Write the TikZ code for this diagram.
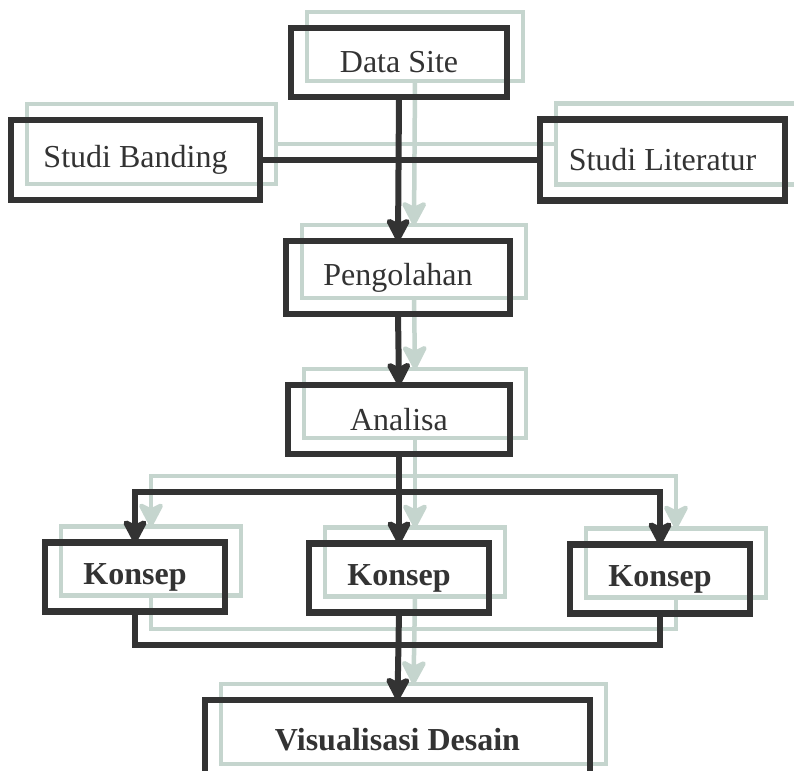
\documentclass[tikz,border=0pt]{standalone}
\usepackage{fontspec}
\setmainfont{Liberation Serif}
\usetikzlibrary{arrows.meta}
\definecolor{ink}{HTML}{333333}
\definecolor{haze}{HTML}{C5D5CE}
\tikzset{
  boxbase/.style={rectangle, inner sep=0pt, outer sep=0pt},
  darkbox/.style={boxbase, draw=ink, line width=6.5pt, text=ink,
    font=\fontsize{32}{38}\selectfont},
  lightbox/.style={boxbase, draw=haze, line width=4.5pt},
  darkline/.style={draw=ink, line width=6pt},
  lightline/.style={draw=haze, line width=4.5pt},
  darktip/.style={darkline, -{Stealth[length=28pt,width=29pt,inset=7pt,round]}},
  lighttip/.style={lightline, -{Stealth[length=28pt,width=29pt,inset=7pt,round]}},
  sDS/.style={minimum width=216pt, minimum height=69pt},
  sSB/.style={minimum width=249pt, minimum height=80pt},
  sSL/.style={minimum width=245pt, minimum height=81pt},
  sPG/.style={minimum width=224pt, minimum height=73pt},
  sAN/.style={minimum width=222pt, minimum height=69pt},
  sKO/.style={minimum width=180pt, minimum height=69pt},
  sVD/.style={minimum width=385pt, minimum height=80pt},
}
\begin{document}
\begin{tikzpicture}[x=1pt, y=-1pt]
\clip (0,0) rectangle (794,770);
\fill[white] (0,0) rectangle (794,770);

% main boxes (placed first so the offset copies can refer to them)
\path
  node[boxbase, sDS] (ds) at (399,62.5) {}
  node[boxbase, sSB] (sb) at (135.5,160) {}
  node[boxbase, sSL] (sl) at (662.5,160) {}
  node[boxbase, sPG] (pg) at (398,277.5) {}
  node[boxbase, sAN] (an) at (399,419.5) {}
  node[boxbase, sKO] (k1) at (135,577) {}
  node[boxbase, sKO] (k2) at (399,578) {}
  node[boxbase, sKO] (k3) at (660,579) {}
  node[boxbase, sVD] (vd) at (397.5,740) {};

% light offset copy of the whole chart
\node[lightbox, sDS] (dsS) at ([shift={(16,-16)}]ds) {};
\node[lightbox, sSB] (sbS) at ([shift={(16,-16)}]sb) {};
\node[lightbox, sSL] (slS) at ([shift={(16,-16)}]sl) {};
\node[lightbox, sPG] (pgS) at ([shift={(16,-16)}]pg) {};
\node[lightbox, sAN] (anS) at ([shift={(16,-16)}]an) {};
\node[lightbox, sKO] (k1S) at ([shift={(16,-16)}]k1) {};
\node[lightbox, sKO] (k2S) at ([shift={(16,-16)}]k2) {};
\node[lightbox, sKO] (k3S) at ([shift={(16,-16)}]k3) {};
\node[lightbox, sVD] (vdS) at ([shift={(16,-16)}]vd) {};
\coordinate (splitS) at (415,476);
\coordinate (mergeS) at (415,629);

\draw[lightline] (sbS.east) -- (sbS.east -| slS.west);
\draw[lighttip] (dsS.south) -- (pgS.north);
\draw[lighttip] (pgS.south) -- (anS.north);
\draw[lightline] (anS.south) -- (splitS);
\draw[lighttip] (splitS) -| (k1S.north);
\draw[lighttip] (splitS) -| (k3S.north);
\draw[lighttip] (splitS) -- (k2S.north);
\draw[lightline, line join=miter] (k1S.south) |- (mergeS) -| (k3S.south);
\draw[lighttip] (k2S.south) -- (vdS.north);

% dark chart
\node[darkbox, sDS] at (ds) {Data Site};
\node[darkbox, sSB] at (sb) {Studi Banding};
\node[darkbox, sSL] at (sl) {Studi Literatur};
\node[darkbox, sPG] at (pg) {Pengolahan};
\node[darkbox, sAN] at (an) {Analisa};
\node[darkbox, sKO, font=\fontsize{32}{38}\selectfont\bfseries] at (k1) {Konsep};
\node[darkbox, sKO, font=\fontsize{32}{38}\selectfont\bfseries] at (k2) {Konsep};
\node[darkbox, sKO, font=\fontsize{32}{38}\selectfont\bfseries] at (k3) {Konsep};
\node[darkbox, sVD, font=\fontsize{32}{38}\selectfont\bfseries] at (vd) {Visualisasi Desain};
\coordinate (split) at (399,492);
\coordinate (merge) at (399,645);

\draw[darkline] (sb.east) -- (sb.east -| sl.west);
\draw[darktip] (ds.south) -- (pg.north);
\draw[darktip] (pg.south) -- (an.north);
\draw[darkline] (an.south) -- (split);
\draw[darktip] (split) -| (k1.north);
\draw[darktip] (split) -| (k3.north);
\draw[darktip] (split) -- (k2.north);
\draw[darkline, line join=miter] (k1.south) |- (merge) -| (k3.south);
\draw[darktip] (k2.south) -- (vd.north);
\end{tikzpicture}
\end{document}
